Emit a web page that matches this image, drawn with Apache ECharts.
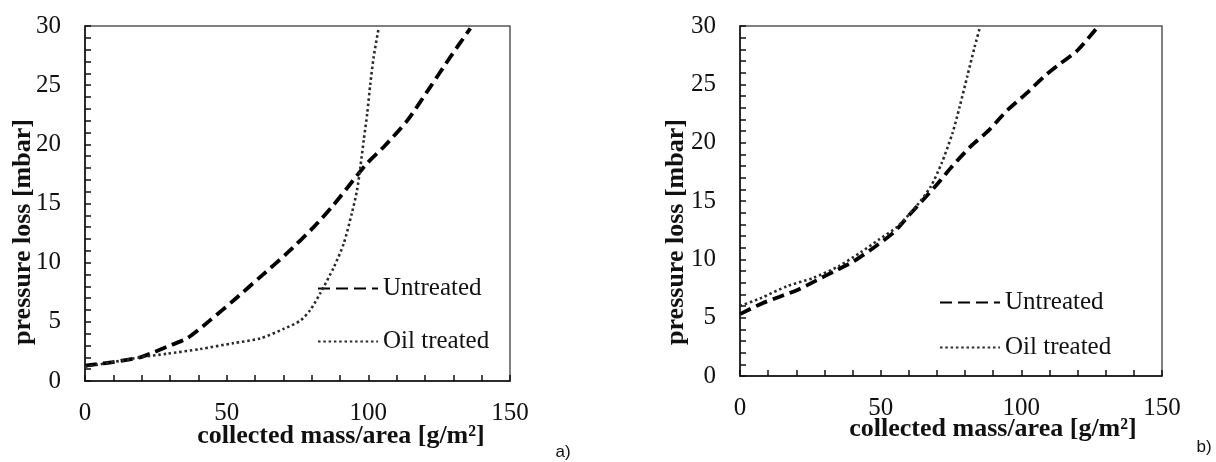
<!DOCTYPE html>
<html>
<head>
<meta charset="utf-8">
<script src="https://cdn.jsdelivr.net/npm/echarts@6/dist/echarts.min.js"></script>
<style>
html,body{margin:0;padding:0;background:#fff;}
#chart{width:1216px;height:462px;}
</style>
</head>
<body>
<div id="chart"></div>
<script>
// ---- Data ----
const xTicksLabels = [0, 50, 100, 150];
const yTicksLabels = [0, 5, 10, 15, 20, 25, 30];

// Panel a)
const aUntreatedX = [0, 10, 19.4, 24, 30, 36, 44, 52.4, 61.9, 71.3, 80.7, 87.8, 94.8, 99.6, 105.5, 113.7, 122, 129, 136];
const aUntreatedY = [1.3, 1.6, 2.0, 2.4, 3.0, 3.6, 5.1, 6.8, 8.8, 10.8, 13.0, 14.9, 17.0, 18.4, 19.8, 22.0, 24.9, 27.4, 29.8];
const aOilX = [0, 10, 19.4, 28.9, 40.6, 52.4, 61.9, 70.1, 76, 79.5, 83, 87.8, 91.3, 94.2, 96, 97.2, 98.4, 99.6, 100.7, 101.9, 103.7];
const aOilY = [1.2, 1.6, 2.0, 2.3, 2.7, 3.2, 3.6, 4.4, 5.1, 6.0, 7.4, 9.6, 11.6, 14.2, 16.1, 18.1, 20.4, 22.6, 25.1, 27.4, 29.9];

// Panel b)
const bUntreatedX = [0, 7.6, 14.1, 20.6, 27.2, 33.7, 40.2, 48.1, 54.6, 59.8, 65.1, 70.3, 75.5, 82.1, 88.6, 95.1, 101.7, 108.2, 113.4, 119.9, 127.1];
const bUntreatedY = [5.3, 6.2, 6.8, 7.4, 8.2, 9.0, 9.8, 11.1, 12.3, 13.7, 15.1, 16.5, 18.0, 19.7, 21.1, 22.8, 24.2, 25.7, 26.7, 27.9, 29.9];
const bOilX = [0, 7.6, 16.7, 25.9, 35, 42.9, 49.4, 55.9, 62.5, 67.7, 71.6, 75.5, 78.1, 80.8, 83.4, 85.3];
const bOilY = [6.0, 6.7, 7.7, 8.4, 9.4, 10.6, 11.7, 12.8, 14.5, 16.2, 18.2, 20.8, 23.1, 25.7, 28.2, 29.9];

const seriesNames = ['Untreated', 'Oil treated'];
const xTitle = 'collected mass/area [g/m²]';
const yTitle = 'pressure loss [mbar]';
const panelLabels = ['a)', 'b)'];

function zip(xs, ys){ return xs.map((x,i)=>[x, ys[i]]); }

const SERIF = '"Liberation Serif", "Times New Roman", serif';

function xAxisDef(gi){
  return {
    gridIndex: gi, type: 'value', min: 0, max: 150, interval: 10,
    axisLine: {show: true, lineStyle: {color: '#111', width: 1.5}},
    axisTick: {show: true, inside: true, length: 6, lineStyle: {color: '#111', width: 1.5}},
    splitLine: {show: false},
    axisLabel: {
      margin: 20, fontSize: 25, fontFamily: SERIF, color: '#111',
      formatter: v => xTicksLabels.indexOf(v) >= 0 ? String(v) : ''
    }
  };
}
function yAxisDef(gi){
  return {
    gridIndex: gi, type: 'value', min: 0, max: 30, interval: 1,
    axisLine: {show: true, lineStyle: {color: '#111', width: 1.5}},
    axisTick: {show: true, inside: true, length: 6, lineStyle: {color: '#111', width: 1.5}},
    splitLine: {show: false},
    axisLabel: {
      margin: 24, fontSize: 25, fontFamily: SERIF, color: '#111',
      formatter: v => yTicksLabels.indexOf(v) >= 0 ? String(v) : ''
    }
  };
}

const dashedStyle = {color: '#000', width: 3.8, type: [12, 6]};
const dottedStyle = {color: '#2a2a2a', width: 2.6, type: [2.5, 2.8]};

function lineSeries(name, gi, data, style){
  return {
    name: name, type: 'line', xAxisIndex: gi, yAxisIndex: gi,
    data: data, showSymbol: false, symbol: 'none', smooth: 0.25,
    lineStyle: style, itemStyle: {color: style.color}, animation: false, z: name === 'Untreated' ? 3 : 4
  };
}

const legendCommon = {
  orient: 'vertical', itemWidth: 60, itemHeight: 14, selectedMode: false,
  itemStyle: {opacity: 0, borderWidth: 0},
  textStyle: {fontSize: 25, fontFamily: SERIF, color: '#111'}
};

const option = {
  backgroundColor: '#fff',
  animation: false,
  grid: [
    {left: 85, top: 26, width: 425, height: 355, show: true, borderColor: '#555', borderWidth: 1.5, backgroundColor: 'transparent'},
    {left: 740, top: 26, width: 422, height: 350, show: true, borderColor: '#555', borderWidth: 1.5, backgroundColor: 'transparent'}
  ],
  xAxis: [xAxisDef(0), xAxisDef(1)],
  yAxis: [yAxisDef(0), yAxisDef(1)],
  legend: [
    Object.assign({}, legendCommon, {left: 312, top: 271, itemGap: 28, data: seriesNames}),
    Object.assign({}, legendCommon, {left: 934, top: 285, itemGap: 20, data: seriesNames})
  ],
  series: [
    lineSeries(seriesNames[0], 0, zip(aUntreatedX, aUntreatedY), dashedStyle),
    lineSeries(seriesNames[1], 0, zip(aOilX, aOilY), dottedStyle),
    lineSeries(seriesNames[0], 1, zip(bUntreatedX, bUntreatedY), dashedStyle),
    lineSeries(seriesNames[1], 1, zip(bOilX, bOilY), dottedStyle)
  ],
  graphic: [
    {type: 'text', x: 341, y: 436, style: {text: xTitle, font: 'bold 26px ' + SERIF, fill: '#111', align: 'center', verticalAlign: 'middle'}},
    {type: 'text', x: 993, y: 429, style: {text: xTitle, font: 'bold 26px ' + SERIF, fill: '#111', align: 'center', verticalAlign: 'middle'}},
    {type: 'text', x: 23, y: 232, rotation: Math.PI/2, style: {text: yTitle, font: 'bold 26px ' + SERIF, fill: '#111', align: 'center', verticalAlign: 'middle'}},
    {type: 'text', x: 676, y: 232, rotation: Math.PI/2, style: {text: yTitle, font: 'bold 26px ' + SERIF, fill: '#111', align: 'center', verticalAlign: 'middle'}},
    {type: 'text', x: 563, y: 452, style: {text: panelLabels[0], font: '17px "Liberation Sans", Arial, sans-serif', fill: '#111', align: 'center', verticalAlign: 'middle'}},
    {type: 'text', x: 1204, y: 447, style: {text: panelLabels[1], font: '17px "Liberation Sans", Arial, sans-serif', fill: '#111', align: 'center', verticalAlign: 'middle'}}
  ]
};

const chart = echarts.init(document.getElementById('chart'), null, {renderer: 'canvas'});
chart.setOption(option);
</script>
</body>
</html>
